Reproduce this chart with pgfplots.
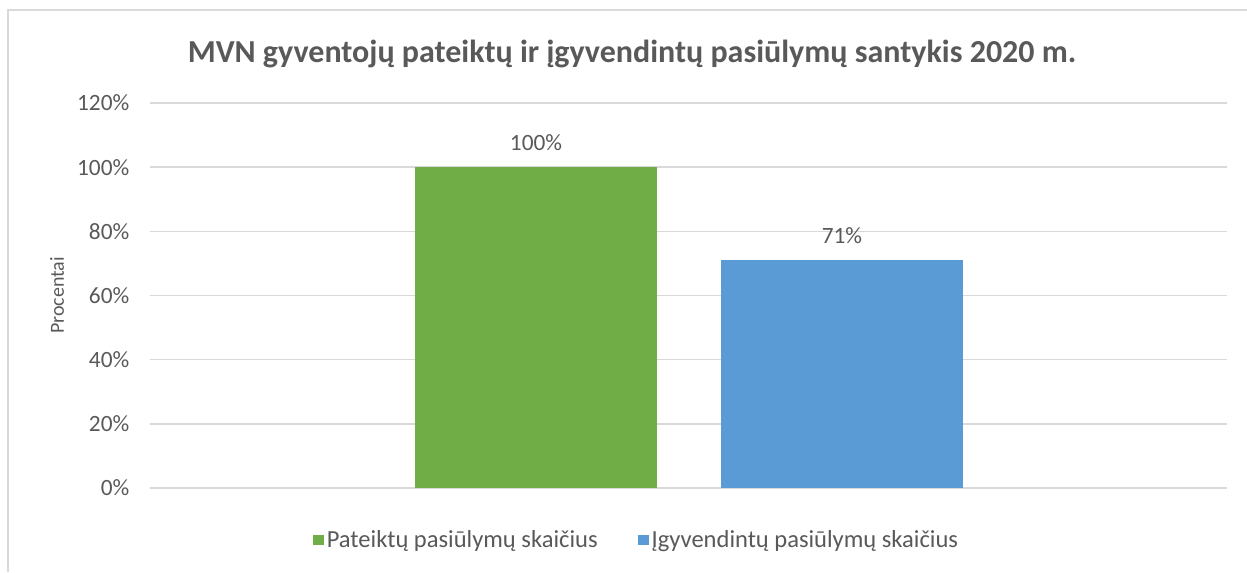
\documentclass[border=0pt]{standalone}
\usepackage{pgfplots}
\pgfplotsset{compat=1.18}
\usepackage{fontspec}
\setmainfont{Carlito}
\definecolor{cgreen}{HTML}{70AD47}
\definecolor{cblue}{HTML}{5B9BD5}
\definecolor{cgrid}{HTML}{D9D9D9}
\definecolor{ctext}{HTML}{595959}
\begin{document}
\begin{tikzpicture}
\useasboundingbox (0,0) rectangle (935.25pt,429pt);
\draw[cgrid, line width=1.1pt] (6pt,0) -- (6pt,421.5pt) -- (935.25pt,421.5pt);
\node[font=\fontsize{24}{28}\selectfont\bfseries, text=ctext] at (474pt,388.5pt) {MVN gyventojų pateiktų ir įgyvendintų pasiūlymų santykis 2020 m.};
\begin{axis}[
  at={(112.5pt,63pt)}, anchor=south west,
  scale only axis, width=807.75pt, height=288.75pt,
  xmin=150, xmax=1227, ymin=0, ymax=120,
  axis line style={draw=none},
  xtick=\empty,
  ytick={0,20,40,60,80,100,120},
  yticklabels={0\%,20\%,40\%,60\%,80\%,100\%,120\%},
  ymajorgrids, grid style={cgrid, line width=1.1pt},
  major tick length=0pt,
  tick label style={font=\fontsize{17.5}{20}\selectfont, text=ctext},
  yticklabel style={xshift=-12pt},
  ylabel={Procentai},
  ylabel style={at={(axis description cs:-0.0864,0.5)}, anchor=center, font=\fontsize{15}{18}\selectfont, text=ctext},
  ybar, bar width=242, bar shift=0pt,
  nodes near coords={\pgfmathprintnumber[assume math mode=true]{\pgfplotspointmeta}\%},
  every node near coord/.append style={font=\fontsize{17.5}{20}\selectfont, text=ctext, yshift=9pt},
  legend style={at={(axis description cs:0.452,-0.135)}, anchor=center, draw=none, legend columns=2,
    font=\fontsize{18.4}{21}\selectfont, text=ctext,
    /tikz/every even column/.append style={column sep=28pt}},
  legend image code/.code={\fill[#1] (0pt,-4.1pt) rectangle (8.5pt,4.1pt);},
]
\addplot[fill=cgreen, draw=none] coordinates {(536,100)};
\addlegendentry{Pateiktų pasiūlymų skaičius}
\addplot[fill=cblue, draw=none] coordinates {(842,71)};
\addlegendentry{Įgyvendintų pasiūlymų skaičius}
\end{axis}
\end{tikzpicture}
\end{document}
